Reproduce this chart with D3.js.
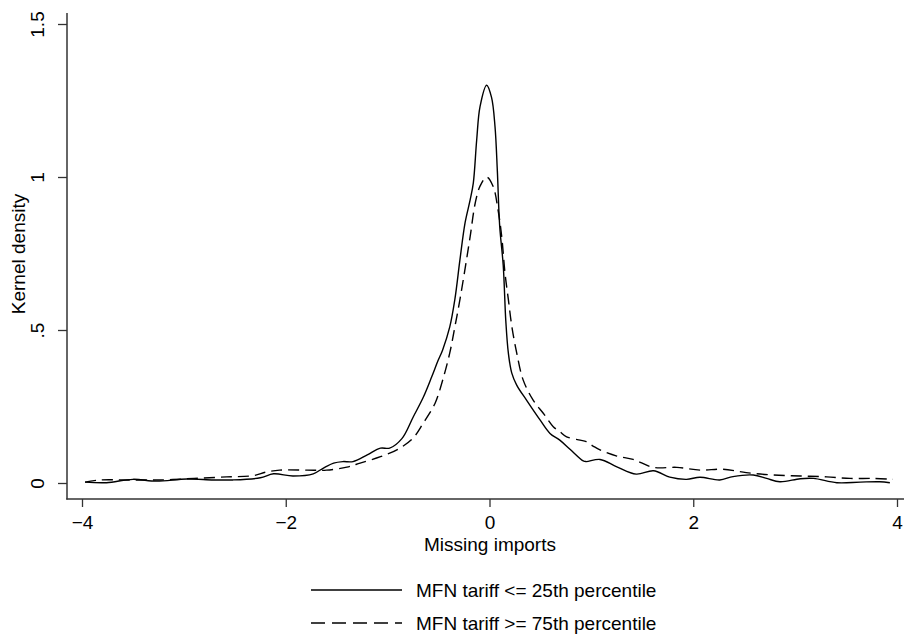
<!DOCTYPE html>
<html>
<head>
<meta charset="utf-8">
<script src="https://cdn.jsdelivr.net/npm/d3@7"></script>
<style>
  html, body { margin: 0; padding: 0; background: #fff; }
  svg { display: block; }
  text { font-family: "Liberation Sans", Arial, Helvetica, sans-serif; fill: #000; }
</style>
</head>
<body>
<svg id="chart" width="904" height="637"></svg>
<script>
// ---- data ----
const xTicks = [-4, -2, 0, 2, 4];
const xTickLabels = ["\u22124", "\u22122", "0", "2", "4"];
const yTicks = [0, 0.5, 1, 1.5];
const yTickLabels = ["0", ".5", "1", "1.5"];

const seriesNames = ["MFN tariff <= 25th percentile", "MFN tariff >= 75th percentile"];

const lowX = [-3.97,-3.76,-3.5,-3.27,-2.97,-2.71,-2.52,-2.25,-2.12,-1.93,-1.73,-1.63,-1.53,-1.44,-1.34,-1.2,-1.07,-0.98,-0.86,-0.75,-0.65,-0.567,-0.505,-0.46,-0.39,-0.34,-0.29,-0.24,-0.19,-0.159,-0.126,-0.093,-0.028,0.02,0.054,0.077,0.10,0.135,0.16,0.185,0.218,0.267,0.365,0.496,0.594,0.69,0.79,0.92,0.95,1.085,1.25,1.44,1.61,1.77,1.935,2.066,2.26,2.39,2.59,2.72,2.85,3.05,3.18,3.41,3.64,3.83,3.93];
const lowY = [0.003,0.001,0.012,0.006,0.013,0.010,0.010,0.017,0.030,0.023,0.030,0.049,0.065,0.070,0.070,0.092,0.114,0.114,0.145,0.215,0.28,0.347,0.40,0.435,0.51,0.60,0.73,0.85,0.925,0.98,1.12,1.23,1.30,1.26,1.165,1.02,0.84,0.71,0.53,0.425,0.36,0.32,0.27,0.206,0.162,0.14,0.11,0.072,0.07,0.077,0.053,0.029,0.04,0.019,0.012,0.019,0.010,0.021,0.026,0.015,0.004,0.014,0.015,0.001,0.003,0.004,0.001];

const highX = [-3.97,-3.82,-3.56,-3.23,-2.9,-2.58,-2.32,-2.19,-2.06,-1.79,-1.6,-1.4,-1.27,-1.07,-0.9,-0.75,-0.65,-0.535,-0.46,-0.39,-0.34,-0.29,-0.24,-0.19,-0.14,-0.093,-0.028,0.035,0.085,0.12,0.152,0.185,0.22,0.267,0.33,0.43,0.528,0.626,0.69,0.757,0.89,0.95,1.02,1.085,1.25,1.41,1.61,1.84,2.07,2.29,2.52,2.79,3.05,3.31,3.54,3.77,3.96];
const highY = [0.003,0.010,0.010,0.010,0.015,0.020,0.024,0.036,0.042,0.042,0.042,0.052,0.065,0.086,0.11,0.147,0.196,0.26,0.336,0.425,0.51,0.60,0.70,0.805,0.915,0.97,1.0,0.97,0.89,0.805,0.686,0.60,0.51,0.425,0.337,0.27,0.228,0.184,0.168,0.151,0.14,0.135,0.12,0.108,0.088,0.077,0.051,0.051,0.042,0.045,0.034,0.026,0.023,0.02,0.015,0.015,0.012];

// ---- layout ----
const svg = d3.select("#chart");
const FS = 19;
const axisX = 67, axisY = 499, plotTop = 13, plotRight = 904;

const x = d3.scaleLinear().domain([-4, 4]).range([82, 897]);
const y = d3.scaleLinear().domain([0, 1.5]).range([483, 24]);

// axis lines
svg.append("line").attr("x1", axisX).attr("x2", axisX).attr("y1", plotTop).attr("y2", axisY + 0.5)
  .attr("stroke", "#333").attr("stroke-width", 1.5);
svg.append("line").attr("x1", axisX - 0.75).attr("x2", plotRight).attr("y1", axisY).attr("y2", axisY)
  .attr("stroke", "#333").attr("stroke-width", 1.5);

// y axis
const yAxis = d3.axisLeft(y).tickValues(yTicks).tickSize(9).tickFormat((d, i) => yTickLabels[i]);
const gy = svg.append("g").attr("transform", `translate(${axisX},0)`).call(yAxis);
gy.select(".domain").remove();
gy.selectAll(".tick line").attr("stroke", "#333").attr("stroke-width", 1.3);
gy.selectAll(".tick text")
  .attr("x", null).attr("dy", null)
  .attr("transform", "translate(-23.5,0) rotate(-90)")
  .attr("text-anchor", "middle")
  .style("font-size", FS + "px")
  .style("font-family", '"Liberation Sans", Arial, sans-serif')
  .attr("fill", "#000");

// x axis
const xAxis = d3.axisBottom(x).tickValues(xTicks).tickSize(8).tickFormat((d, i) => xTickLabels[i]);
const gx = svg.append("g").attr("transform", `translate(0,${axisY})`).call(xAxis);
gx.select(".domain").remove();
gx.selectAll(".tick line").attr("stroke", "#333").attr("stroke-width", 1.3);
gx.selectAll(".tick text")
  .attr("y", 29.5).attr("dy", null)
  .style("font-size", FS + "px")
  .style("font-family", '"Liberation Sans", Arial, sans-serif')
  .attr("fill", "#000");

// titles
svg.append("text").attr("x", 490).attr("y", 551).attr("text-anchor", "middle")
  .style("font-size", FS + "px").text("Missing imports");
svg.append("text").attr("transform", "translate(25,254) rotate(-90)").attr("text-anchor", "middle")
  .style("font-size", FS + "px").text("Kernel density");

// lines
const line = d3.line().x(d => x(d[0])).y(d => y(d[1])).curve(d3.curveCatmullRom.alpha(0.5));
const lowData = lowX.map((v, i) => [v, lowY[i]]);
const highData = highX.map((v, i) => [v, highY[i]]);

svg.append("path").datum(highData).attr("d", line).attr("fill", "none")
  .attr("stroke", "#000").attr("stroke-width", 1.4).attr("stroke-dasharray", "11,6");
svg.append("path").datum(lowData).attr("d", line).attr("fill", "none")
  .attr("stroke", "#000").attr("stroke-width", 1.4);

// legend
const dashes = [null, "14,7"];
const leg = svg.append("g");
seriesNames.forEach((name, i) => {
  const ly = 590 + i * 33;
  leg.append("line").attr("x1", 311).attr("x2", 402).attr("y1", ly).attr("y2", ly)
    .attr("stroke", "#000").attr("stroke-width", 1.4)
    .attr("stroke-dasharray", dashes[i]);
  leg.append("text").attr("x", 416).attr("y", ly + 6.5).style("font-size", FS + "px").text(name);
});
</script>
</body>
</html>
